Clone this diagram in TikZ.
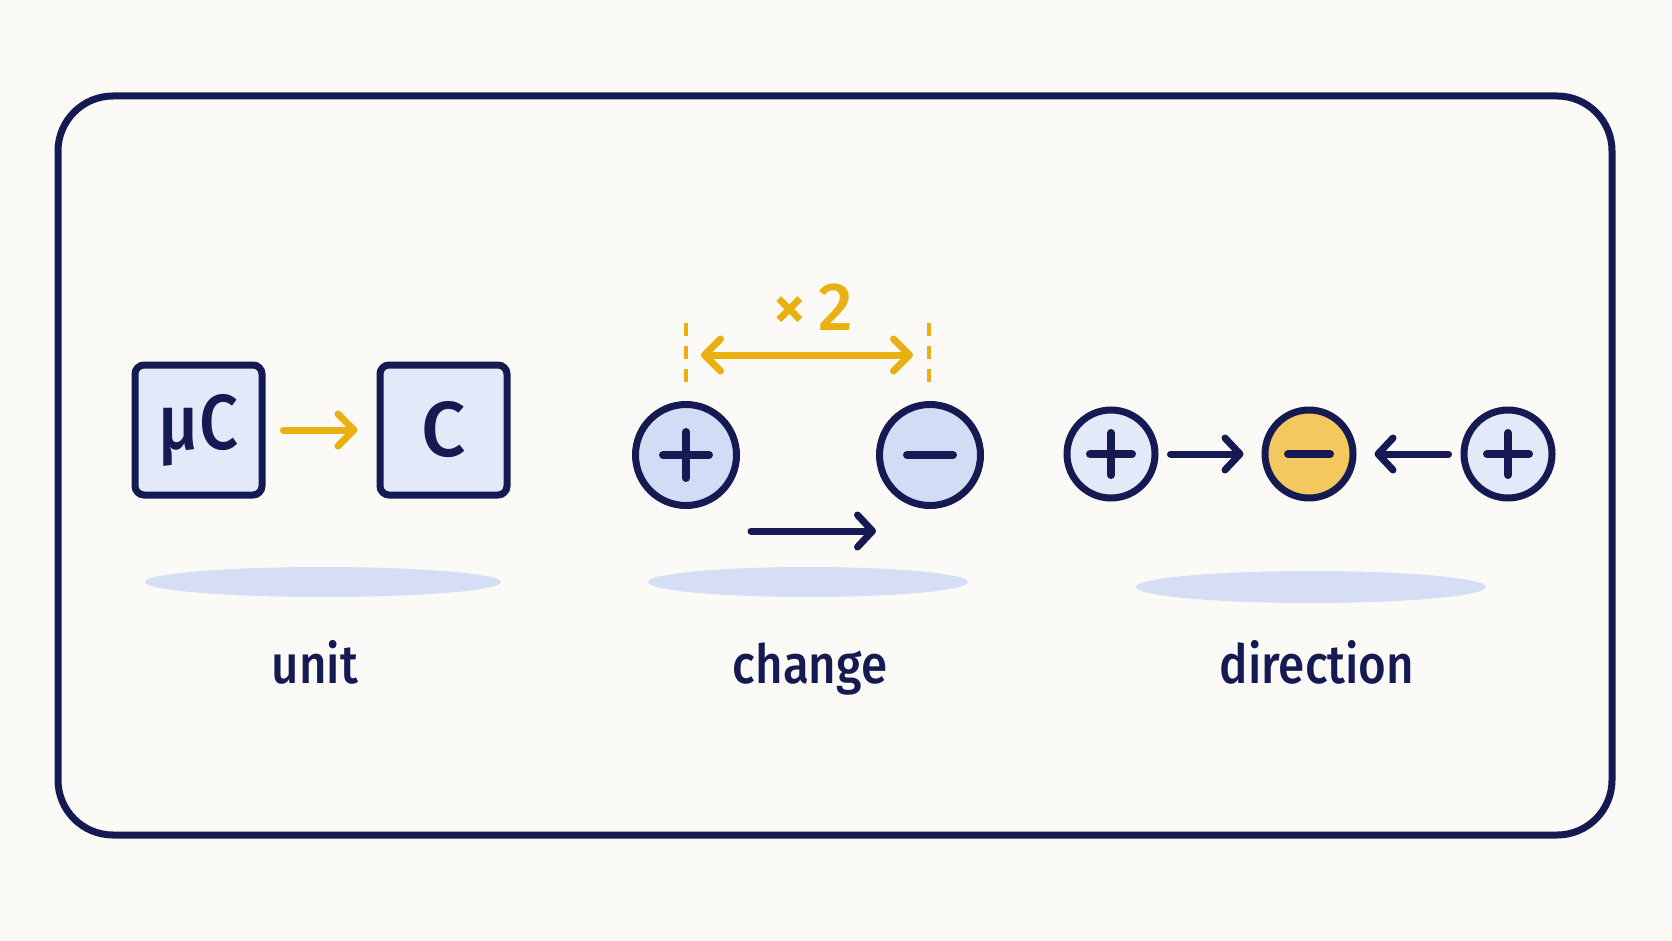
\documentclass[tikz,border=0pt]{standalone}
\usepackage{fontspec}
\setmainfont{Fira Sans}
\IfFontExistsTF{Fira Sans Medium}{\newfontfamily\medfont{Fira Sans Medium}}{\newfontfamily\medfont{Fira Sans}[FakeBold=1.5]}
\usetikzlibrary{arrows.meta}
\definecolor{navy}{HTML}{161A52}
\definecolor{bg}{HTML}{FBFAF6}
\definecolor{lblue}{HTML}{E3E9F8}
\definecolor{mblue}{HTML}{D3DCF5}
\definecolor{shade}{HTML}{D6DEF5}
\definecolor{gold}{HTML}{E8B010}
\definecolor{goldfill}{HTML}{F3C85E}
\begin{document}
\begin{tikzpicture}[x=1pt,y=-1pt,
  unitbox/.style={draw=navy,line width=7pt,fill=lblue,rounded corners=9pt,
    minimum width=127pt,minimum height=130pt,inner sep=0pt,text=navy,
    font=\fontsize{78}{78}\medfont},
  bigcharge/.style={circle,draw=navy,line width=7pt,fill=mblue,minimum size=101pt,inner sep=0pt},
  smallcharge/.style={circle,draw=navy,line width=7pt,fill=lblue,minimum size=88pt,inner sep=0pt},
  sign/.style={draw=navy,line width=8pt,line cap=round},
  navyarrow/.style={draw=navy,line width=7pt,line cap=round,
    -{Straight Barb[length=15pt,width=32pt,line cap=round,line join=round]}},
  goldarrow/.style={draw=gold,line width=7pt,line cap=round,
    -{Straight Barb[length=16pt,width=32pt,line cap=round,line join=round]}},
  golddouble/.style={draw=gold,line width=7pt,line cap=round,
    {Straight Barb[length=16pt,width=32pt,line cap=round,line join=round]}-{Straight Barb[length=16pt,width=32pt,line cap=round,line join=round]}},
  guide/.style={draw=gold,line width=3.5pt,dash pattern=on 13pt off 10pt},
  label/.style={text=navy,anchor=base,font=\fontsize{54}{54}\medfont},
  shadow/.style={fill=shade}
]
\useasboundingbox (0,0) rectangle (1672,941);
\fill[bg] (0,0) rectangle (1672,941);
% frame
\draw[navy,line width=7pt,rounded corners=55pt] (58,96) rectangle (1612,835);

% shadows
\fill[shadow] (323,582) ellipse [x radius=178, y radius=15];
\fill[shadow] (808,582) ellipse [x radius=160, y radius=15];
\fill[shadow] (1311,587) ellipse [x radius=175, y radius=16];

% unit panel
\node[unitbox] (uc) at (198.5,430) {\scalebox{0.88}[1]{μC}};
\node[unitbox] (c) at (443.5,430) {C};
\draw[goldarrow,shorten <=18pt,shorten >=19pt] (uc) -- (c);
\node[label] (lunit) at (315,683) {\scalebox{0.88}[1]{unit}};

% change panel
\node[bigcharge] (p1) at (686,455) {};
\node[bigcharge] (m1) at (930,455) {};
\draw[sign] ([xshift=-23pt]p1.center) -- ([xshift=23pt]p1.center);
\draw[sign] ([yshift=-23pt]p1.center) -- ([yshift=23pt]p1.center);
\draw[sign] ([xshift=-23pt]m1.center) -- ([xshift=23pt]m1.center);
\coordinate (g1top) at (686,323);
\coordinate (g1bot) at (686,392);
\coordinate (g2top) at (929,323);
\coordinate (g2bot) at (929,392);
\draw[guide] (g1top) -- (g1bot);
\draw[guide] (g2top) -- (g2bot);
\coordinate (da) at (701,355);
\coordinate (db) at (913,355);
\draw[golddouble] (da) -- (db);
\node[text=gold,font=\fontsize{68}{68}\medfont] (x2) at (813,307) {×\,2};
\coordinate (na) at (751,531);
\coordinate (nb) at (876,531);
\draw[navyarrow] (na) -- (nb);
\node[label] (lchange) at (810,683) {\scalebox{0.88}[1]{change}};

% direction panel
\node[smallcharge] (d1) at (1111,454) {};
\node[smallcharge,fill=goldfill] (d2) at (1309,454) {};
\node[smallcharge] (d3) at (1508,454) {};
\draw[sign] ([xshift=-21pt]d1.center) -- ([xshift=21pt]d1.center);
\draw[sign] ([yshift=-21pt]d1.center) -- ([yshift=21pt]d1.center);
\draw[sign] ([xshift=-21pt]d2.center) -- ([xshift=21pt]d2.center);
\draw[sign] ([xshift=-21pt]d3.center) -- ([xshift=21pt]d3.center);
\draw[sign] ([yshift=-21pt]d3.center) -- ([yshift=21pt]d3.center);
\draw[navyarrow,shorten <=12pt,shorten >=18pt] (d1) -- (d2);
\draw[navyarrow,shorten <=12pt,shorten >=18pt] (d3) -- (d2);
\node[label] (ldir) at (1317,683) {\scalebox{0.88}[1]{direction}};
\end{tikzpicture}
\end{document}
